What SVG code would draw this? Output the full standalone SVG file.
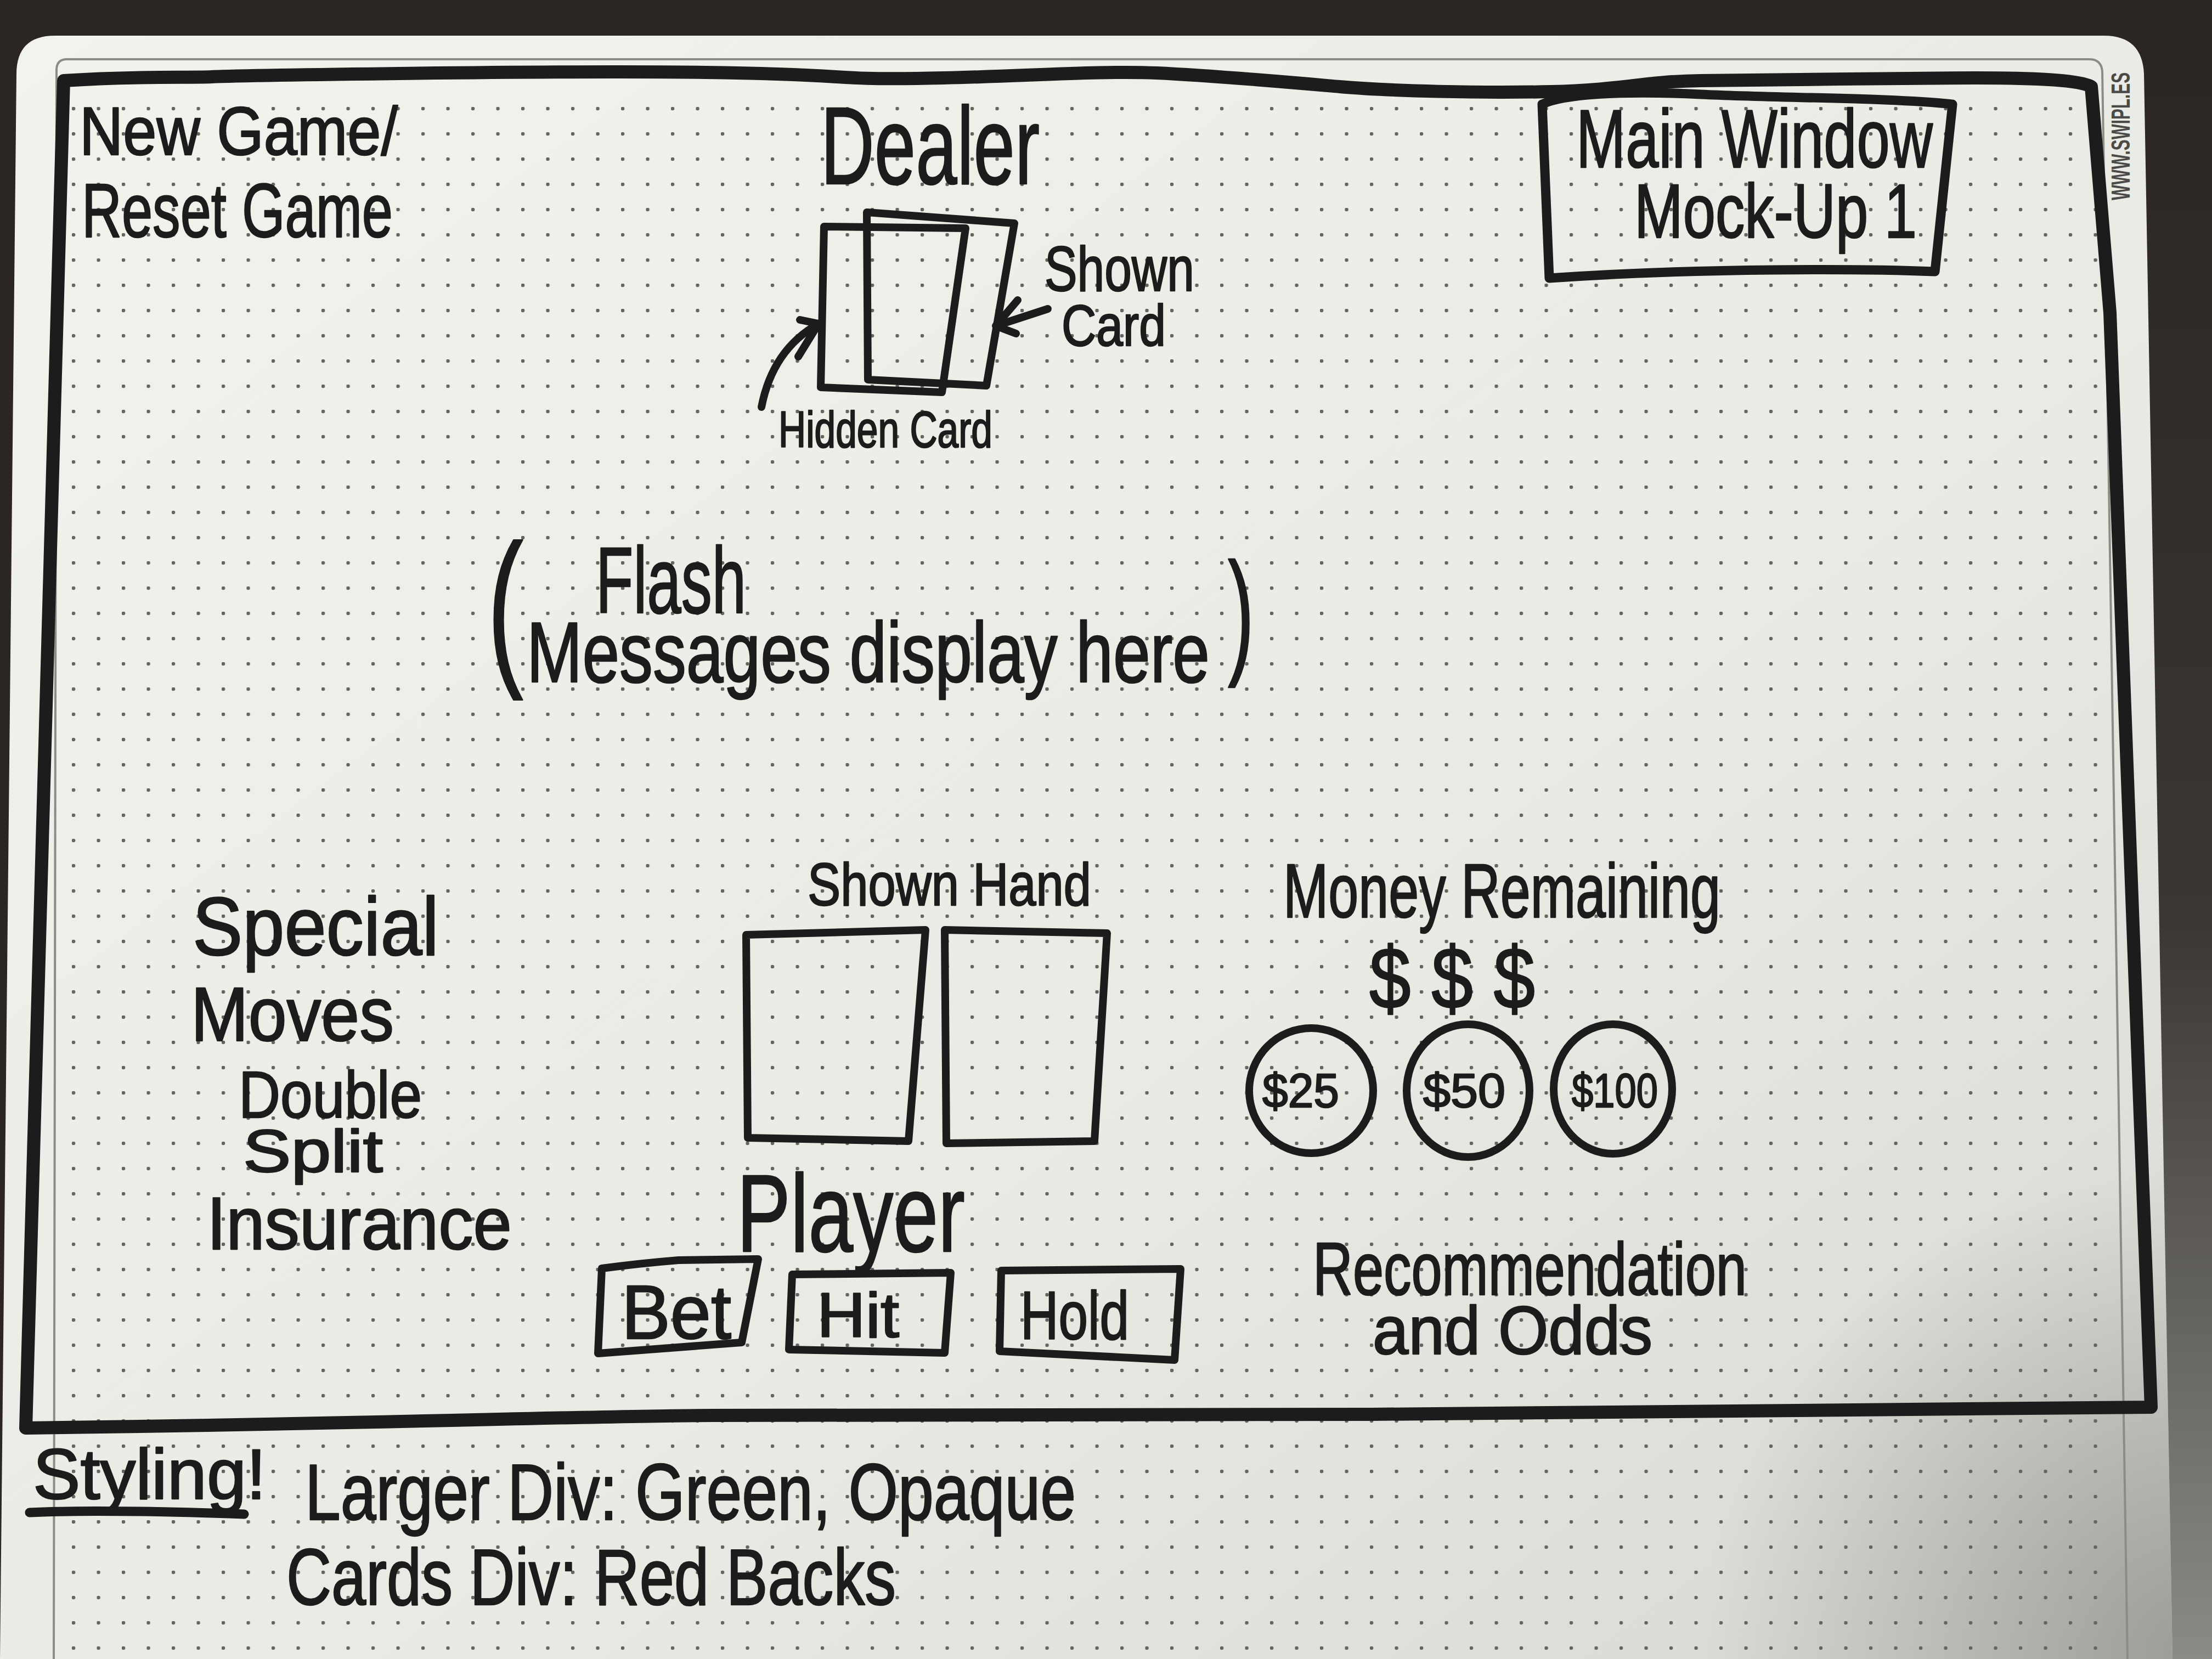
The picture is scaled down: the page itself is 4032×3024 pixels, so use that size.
<svg xmlns="http://www.w3.org/2000/svg" width="4032" height="3024" viewBox="0 0 4032 3024">
<defs>
<style>
.ink{fill:none;stroke:#1c1c1c;stroke-linecap:round;stroke-linejoin:round}
.frame{stroke-width:24}
.thick{stroke-width:17}
.mid{stroke-width:14}
.hw{font-family:"Liberation Sans","DejaVu Sans",sans-serif;fill:#1c1c1c;stroke:#1c1c1c;stroke-width:2.5;stroke-linejoin:round}
.print{font-family:"Liberation Sans","DejaVu Sans",sans-serif;font-weight:bold;fill:#4a4a48}
</style>
<pattern id="dots" patternUnits="userSpaceOnUse" x="313" y="1575" width="45.5" height="46">
<circle cx="3" cy="3" r="3.3" fill="#65655f"/>
</pattern>
<linearGradient id="boardG" x1="0" y1="0" x2="1" y2="1">
<stop offset="0" stop-color="#f3f3ee"/>
<stop offset="0.6" stop-color="#e9eae3"/>
<stop offset="1" stop-color="#d6d7d0"/>
</linearGradient>
<radialGradient id="shade" cx="4000" cy="3024" r="900" gradientUnits="userSpaceOnUse">
<stop offset="0" stop-color="#8d8d88" stop-opacity="0.8"/>
<stop offset="1" stop-color="#8d8d88" stop-opacity="0"/>
</radialGradient>
<linearGradient id="edgeG" x1="0" y1="0" x2="0" y2="1">
<stop offset="0" stop-color="#2a2522"/>
<stop offset="0.55" stop-color="#3a3633"/>
<stop offset="1" stop-color="#8a8a86"/>
</linearGradient>
<clipPath id="boardClip">
<path d="M30,135 Q30,65 100,65 L3835,65 Q3905,65 3908,135 L3960,3024 L0,3024 Z"/>
</clipPath>
</defs>

<g id="background">
<rect x="0" y="0" width="4032" height="3024" fill="#2b2623"/>
<rect x="3880" y="0" width="152" height="3024" fill="url(#edgeG)"/>
<path d="M30,135 Q30,65 100,65 L3835,65 Q3905,65 3908,135 L3960,3024 L0,3024 Z" fill="url(#boardG)"/>
<g clip-path="url(#boardClip)">
<rect x="0" y="0" width="4032" height="3024" fill="url(#shade)"/>
<rect x="100" y="175" width="3760" height="2849" fill="url(#dots)"/>
</g>
<path d="M98,3024 L103,126 Q104,108 122,108 L3808,108 Q3830,108 3832,130 L3878,3024" fill="none" stroke="#8c8c86" stroke-width="4"/>
<text class="print" x="0" y="0" font-size="48" textLength="233" lengthAdjust="spacingAndGlyphs" transform="translate(3882,365) rotate(-90)">WWW.SWIPL.ES</text>
</g>

<g id="main-frame">
<path class="ink frame" d="M116,147 C250,138 340,142 386,140 S1000,128 1285,132 S1500,145 1671,143 S2000,128 2108,133 S2350,150 2442,158 S2700,170 2828,167 S3000,148 3100,147 S3500,142 3600,142 S3790,145 3812,158 L3846,570 L3921,2565 C3500,2570 3000,2574 2500,2578 S1500,2580 1300,2580 S700,2595 47,2603 Z"/>
</g>

<g id="new-reset-game">
<text class="hw" x="145" y="282" font-size="125" textLength="580" lengthAdjust="spacingAndGlyphs">New Game/</text>
<text class="hw" x="149" y="432" font-size="140" textLength="567" lengthAdjust="spacingAndGlyphs">Reset Game</text>
</g>

<g id="title-box">
<path class="ink thick" d="M2811,190 C2850,172 2950,165 3100,172 S3450,178 3559,190 L3527,495 C3400,490 3100,488 2824,507 Z"/>
<text class="hw" x="2873" y="305" font-size="150" textLength="650" lengthAdjust="spacingAndGlyphs">Main Window</text>
<text class="hw" x="2979" y="433" font-size="140" textLength="515" lengthAdjust="spacingAndGlyphs">Mock-Up 1</text>
</g>

<g id="dealer">
<text class="hw" x="1496" y="335" font-size="200" textLength="399" lengthAdjust="spacingAndGlyphs">Dealer</text>
<path id="hidden-card" class="ink mid" d="M1502,413 L1760,416 L1717,715 L1496,706 Z"/>
<path id="shown-card" class="ink mid" d="M1580,387 L1849,407 L1798,703 L1582,692 Z"/>
<text class="hw" x="1904" y="530" font-size="115" textLength="273" lengthAdjust="spacingAndGlyphs">Shown</text>
<text class="hw" x="1935" y="630" font-size="105" textLength="190" lengthAdjust="spacingAndGlyphs">Card</text>
<text class="hw" x="1419" y="815" font-size="92" textLength="390" lengthAdjust="spacingAndGlyphs">Hidden Card</text>
</g>

<g id="connectors">
<path class="ink mid" d="M1910,563 L1818,593"/>
<path class="ink mid" d="M1855,547 L1815,594 L1852,608"/>
<path class="ink mid" d="M1388,742 C1400,680 1430,625 1492,590"/>
<path class="ink mid" d="M1458,583 L1492,590 L1455,650"/>
</g>

<g id="flash-messages">
<text class="hw" x="888" y="1211" font-size="313" stroke-width="0" textLength="66" lengthAdjust="spacingAndGlyphs">(</text>
<text class="hw" x="1086" y="1117" font-size="170" textLength="274" lengthAdjust="spacingAndGlyphs">Flash</text>
<text class="hw" x="960" y="1243" font-size="155" textLength="1245" lengthAdjust="spacingAndGlyphs">Messages display here</text>
<text class="hw" x="2238" y="1201" font-size="250" stroke-width="0" textLength="48" lengthAdjust="spacingAndGlyphs">)</text>
</g>

<g id="special-moves">
<text class="hw" x="351" y="1741" font-size="150" textLength="449" lengthAdjust="spacingAndGlyphs">Special</text>
<text class="hw" x="348" y="1897" font-size="140" textLength="370" lengthAdjust="spacingAndGlyphs">Moves</text>
<text class="hw" x="435" y="2037" font-size="120" textLength="334" lengthAdjust="spacingAndGlyphs">Double</text>
<text class="hw" x="443" y="2136" font-size="110" textLength="255" lengthAdjust="spacingAndGlyphs">Split</text>
<text class="hw" x="377" y="2277" font-size="135" textLength="556" lengthAdjust="spacingAndGlyphs">Insurance</text>
</g>

<g id="player-hand">
<text class="hw" x="1472" y="1650" font-size="110" textLength="517" lengthAdjust="spacingAndGlyphs">Shown Hand</text>
<path class="ink mid" d="M1360,1704 L1687,1695 L1656,2080 L1363,2074 Z"/>
<path class="ink mid" d="M1722,1695 L2018,1701 L1995,2080 L1725,2084 Z"/>
<text class="hw" x="1343" y="2281" font-size="200" textLength="416" lengthAdjust="spacingAndGlyphs">Player</text>
</g>

<g id="btn-bet">
<path class="ink mid" d="M1097,2312 C1150,2305 1200,2300 1237,2297 L1382,2295 L1352,2447 L1090,2467 Z"/>
<text class="hw" x="1133" y="2440" font-size="140" textLength="200" lengthAdjust="spacingAndGlyphs">Bet</text>
</g>
<g id="btn-hit">
<path class="ink mid" d="M1444,2323 L1733,2320 L1722,2466 L1438,2460 Z"/>
<text class="hw" x="1489" y="2437" font-size="115" textLength="150" lengthAdjust="spacingAndGlyphs">Hit</text>
</g>
<g id="btn-hold">
<path class="ink mid" d="M1825,2316 L2152,2313 L2141,2479 L1822,2463 Z"/>
<text class="hw" x="1860" y="2441" font-size="125" textLength="198" lengthAdjust="spacingAndGlyphs">Hold</text>
</g>

<g id="money">
<text class="hw" x="2339" y="1672" font-size="140" textLength="797" lengthAdjust="spacingAndGlyphs">Money Remaining</text>
<text class="hw" x="2496" y="1838" font-size="160" textLength="302" lengthAdjust="spacingAndGlyphs">$ $ $</text>
</g>
<g id="chip-25">
<ellipse class="ink mid" cx="2390" cy="1988" rx="113" ry="114"/>
<text class="hw" x="2301" y="2018" font-size="88" textLength="140" lengthAdjust="spacingAndGlyphs">$25</text>
</g>
<g id="chip-50">
<ellipse class="ink mid" cx="2676" cy="1988" rx="112" ry="121"/>
<text class="hw" x="2594" y="2018" font-size="88" textLength="150" lengthAdjust="spacingAndGlyphs">$50</text>
</g>
<g id="chip-100">
<ellipse class="ink mid" cx="2940" cy="1985" rx="108" ry="118"/>
<text class="hw" x="2865" y="2018" font-size="88" textLength="157" lengthAdjust="spacingAndGlyphs">$100</text>
</g>

<g id="recommendation">
<text class="hw" x="2393" y="2360" font-size="135" textLength="791" lengthAdjust="spacingAndGlyphs">Recommendation</text>
<text class="hw" x="2502" y="2468" font-size="125" textLength="510" lengthAdjust="spacingAndGlyphs">and Odds</text>
</g>

<g id="styling-notes">
<text class="hw" x="60" y="2732" font-size="130" textLength="425" lengthAdjust="spacingAndGlyphs">Styling!</text>
<path class="ink thick" d="M54,2757 C150,2752 300,2755 445,2760"/>
<text class="hw" x="556" y="2770" font-size="145" textLength="1405" lengthAdjust="spacingAndGlyphs">Larger Div: Green, Opaque</text>
<text class="hw" x="522" y="2925" font-size="145" textLength="1111" lengthAdjust="spacingAndGlyphs">Cards Div: Red Backs</text>
</g>
</svg>
